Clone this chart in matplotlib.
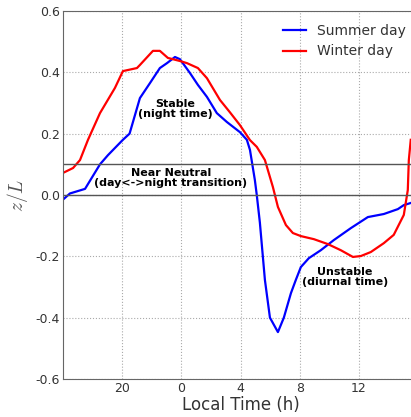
import matplotlib
matplotlib.use("Agg")
import matplotlib.pyplot as plt

# local time in hours (24 -> 0 next day)
summer_t = [16.0, 16.47, 17.49, 18.5, 19.04, 20.05, 20.5, 21.2, 21.88, 22.55, 23.03,
            23.57, 23.9, 24.1, 24.58, 25.12, 25.73, 26.4, 27.08, 27.96, 28.43,
            28.64, 28.97, 29.1, 29.31, 29.65, 29.99, 30.53, 30.93, 31.41, 31.74,
            32.08, 32.62, 33.43, 34.31, 35.46, 36.61, 37.69, 38.64, 39.04, 39.51]
summer_zl = [-0.015, 0.005, 0.02, 0.10, 0.13, 0.18, 0.20, 0.316, 0.365, 0.414, 0.43,
             0.45, 0.443, 0.43, 0.398, 0.359, 0.32, 0.267, 0.238, 0.205, 0.18,
             0.147, 0.049, 0.0, -0.09, -0.277, -0.40, -0.447, -0.40, -0.32, -0.277,
             -0.235, -0.206, -0.18, -0.147, -0.108, -0.072, -0.062, -0.046, -0.033, -0.026]

winter_t = [16.0, 16.68, 17.15, 17.69, 18.5, 19.51, 20.05, 21.0, 21.2, 22.08, 22.55,
            23.09, 23.9, 24.38, 25.12, 25.73, 26.61, 27.28, 27.96, 28.64, 29.1,
            29.65, 30.19, 30.53, 31.07, 31.54, 32.08, 32.96, 33.9, 34.78, 35.6,
            36.14, 36.81, 37.69, 38.36, 39.04, 39.31, 39.38, 39.51]
winter_zl = [0.072, 0.088, 0.114, 0.18, 0.267, 0.349, 0.404, 0.414, 0.424, 0.47, 0.47,
             0.447, 0.437, 0.43, 0.414, 0.381, 0.31, 0.27, 0.228, 0.179, 0.157,
             0.114, 0.026, -0.039, -0.098, -0.124, -0.134, -0.144, -0.160, -0.18, -0.202,
             -0.199, -0.186, -0.157, -0.130, -0.065, 0.016, 0.114, 0.18]

xticks = [20, 24, 28, 32, 36]
xticklabels = ["20", "0", "4", "8", "12"]
yticks = [-0.6, -0.4, -0.2, 0.0, 0.2, 0.4, 0.6]

plt.rcParams['mathtext.fontset'] = 'cm'
txt = '#333333'

fig = plt.figure(figsize=(4.11, 4.17), dpi=100)
# axes runs past the right border on purpose (cropped like the original)
ax = fig.add_axes([63 / 411, 38 / 417, 355 / 411, 368 / 417])

ax.plot(summer_t, summer_zl, color='blue', lw=1.6, label='Summer day')
ax.plot(winter_t, winter_zl, color='red', lw=1.6, label='Winter day')

# stability class borders
ax.axhline(0.0, color='#555555', lw=1)
ax.axhline(0.1, color='#555555', lw=1)

ax.text(23.6, 0.28, "Stable\n(night time)", ha='center', va='center',
        fontsize=8, fontweight='bold', linespacing=1.0)
ax.text(23.3, 0.055, "Near Neutral\n(day<->night transition)", ha='center', va='center',
        fontsize=8, fontweight='bold', linespacing=1.0)
ax.text(35.05, -0.267, "Unstable\n(diurnal time)", ha='center', va='center',
        fontsize=8, fontweight='bold', linespacing=1.0)

ax.set_xlim(16, 40)
ax.set_ylim(-0.6, 0.6)
ax.set_xticks(xticks)
ax.set_xticklabels(xticklabels)
ax.set_yticks(yticks)
ax.set_yticklabels(["%.1f" % v for v in yticks])
ax.tick_params(labelsize=9, colors=txt, length=0, pad=2)
ax.grid(True, linestyle=':', color='#aaaaaa', lw=0.8)

for s in ax.spines.values():
    s.set_color('#666666')

ax.set_xlabel("Local Time (h)", fontsize=12, color=txt, labelpad=1)
ax.set_ylabel("$z/L$", fontsize=14, color='#555555', labelpad=4)

ax.legend(loc='upper right', bbox_to_anchor=(1.0, 1.0), frameon=False,
          fontsize=10, handlelength=1.6, labelcolor=txt)

fig.savefig("out.png", dpi=100)
